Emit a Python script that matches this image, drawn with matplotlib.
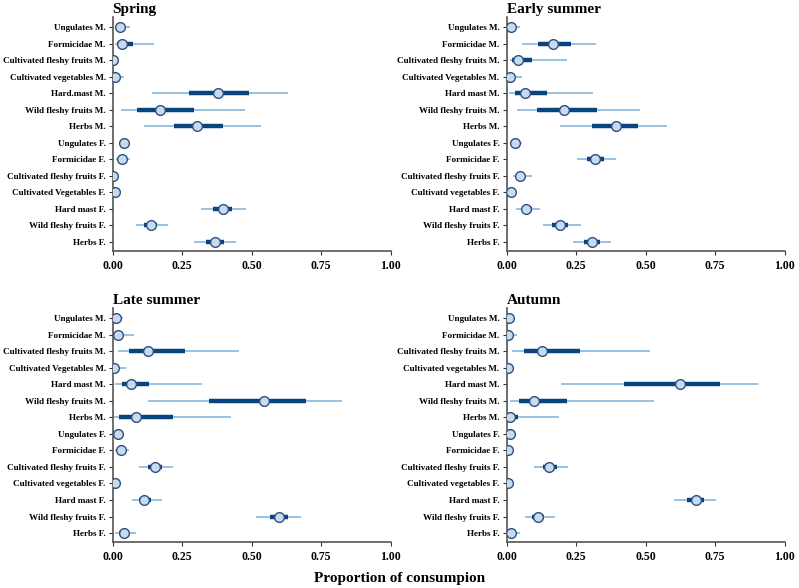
import numpy as np
import matplotlib
matplotlib.use("Agg")
import matplotlib.pyplot as plt

plt.rcParams['font.family'] = ['Liberation Serif', 'DejaVu Serif']
plt.rcParams['font.weight'] = 'bold'

# row labels, top to bottom
labels_spring = ["Ungulates M.", "Formicidae M.", "Cultivated fleshy fruits M.", "Cultivated vegetables M.",
                 "Hard.mast M.", "Wild fleshy fruits M.", "Herbs M.", "Ungulates F.", "Formicidae F.",
                 "Cultivated fleshy fruits F.", "Cultivated Vegetables F.", "Hard mast F.",
                 "Wild fleshy fruits F.", "Herbs F."]
labels_early = ["Ungulates M.", "Formicidae M.", "Cultivated fleshy fruits M.", "Cultivated Vegetables M.",
                "Hard mast M.", "Wild fleshy fruits M.", "Herbs M.", "Ungulates F.", "Formicidae F.",
                "Cultivated fleshy fruits F.", "Cultivatd vegetables F.", "Hard mast F.",
                "Wild fleshy fruits F.", "Herbs F."]
labels_late = ["Ungulates M.", "Formicidae M.", "Cultivated fleshy fruits M.", "Cultivated Vegetables M.",
               "Hard mast M.", "Wild fleshy fruits M.", "Herbs M.", "Ungulates F.", "Formicidae F.",
               "Cultivated fleshy fruits F.", "Cultivated vegetables F.", "Hard mast F.",
               "Wild fleshy fruits F.", "Herbs F."]
labels_autumn = ["Ungulates M.", "Formicidae M.", "Cultivated fleshy fruits M.", "Cultivated vegetables M.",
                 "Hard mast M.", "Wild fleshy fruits M.", "Herbs M.", "Ungulates F.", "Formicidae F.",
                 "Cultivated fleshy fruits F.", "Cultivated vegetables F.", "Hard mast F.",
                 "Wild fleshy fruits F.", "Herbs F."]

# median, 50% interval (lo, hi), 95% interval (lo, hi)
spring_med = [0.028, 0.035, 0.002, 0.007, 0.38, 0.171, 0.305, 0.042, 0.032, 0.001, 0.010, 0.396, 0.137, 0.367]
spring_lo50 = [0.015, 0.014, 0.000, 0.001, 0.276, 0.088, 0.219, 0.035, 0.022, 0.000, 0.003, 0.362, 0.111, 0.336]
spring_hi50 = [0.040, 0.074, 0.004, 0.015, 0.489, 0.294, 0.396, 0.050, 0.044, 0.002, 0.015, 0.430, 0.158, 0.399]
spring_lo95 = [0.008, 0.008, 0.000, 0.000, 0.140, 0.029, 0.114, 0.030, 0.012, 0.000, 0.000, 0.319, 0.084, 0.294]
spring_hi95 = [0.062, 0.150, 0.008, 0.042, 0.630, 0.476, 0.532, 0.055, 0.061, 0.004, 0.020, 0.478, 0.200, 0.442]

early_med = [0.017, 0.166, 0.040, 0.011, 0.066, 0.208, 0.393, 0.031, 0.319, 0.048, 0.017, 0.069, 0.193, 0.307]
early_lo50 = [0.008, 0.114, 0.018, 0.003, 0.029, 0.111, 0.308, 0.025, 0.291, 0.036, 0.010, 0.054, 0.165, 0.279]
early_hi50 = [0.028, 0.231, 0.090, 0.022, 0.144, 0.326, 0.473, 0.040, 0.349, 0.062, 0.025, 0.090, 0.222, 0.337]
early_lo95 = [0.000, 0.057, 0.012, 0.000, 0.010, 0.038, 0.193, 0.019, 0.254, 0.022, 0.004, 0.034, 0.132, 0.240]
early_hi95 = [0.050, 0.323, 0.216, 0.055, 0.311, 0.481, 0.577, 0.054, 0.395, 0.090, 0.036, 0.122, 0.266, 0.376]

late_med = [0.012, 0.018, 0.126, 0.006, 0.067, 0.546, 0.085, 0.020, 0.029, 0.151, 0.010, 0.114, 0.600, 0.041]
late_lo50 = [0.005, 0.006, 0.060, 0.001, 0.034, 0.345, 0.022, 0.014, 0.018, 0.128, 0.004, 0.093, 0.565, 0.024]
late_hi50 = [0.020, 0.038, 0.260, 0.015, 0.129, 0.695, 0.216, 0.026, 0.040, 0.177, 0.015, 0.139, 0.632, 0.057]
late_lo95 = [0.000, 0.002, 0.018, 0.000, 0.010, 0.126, 0.006, 0.012, 0.010, 0.096, 0.002, 0.069, 0.515, 0.010]
late_hi95 = [0.036, 0.077, 0.455, 0.048, 0.320, 0.824, 0.425, 0.030, 0.060, 0.218, 0.020, 0.177, 0.678, 0.085]

autumn_med = [0.008, 0.005, 0.128, 0.004, 0.625, 0.100, 0.012, 0.013, 0.006, 0.154, 0.005, 0.680, 0.114, 0.016]
autumn_lo50 = [0.003, 0.001, 0.062, 0.001, 0.422, 0.045, 0.002, 0.008, 0.002, 0.132, 0.001, 0.649, 0.092, 0.005]
autumn_hi50 = [0.015, 0.012, 0.265, 0.008, 0.766, 0.218, 0.042, 0.019, 0.010, 0.180, 0.008, 0.710, 0.135, 0.028]
autumn_lo95 = [0.000, 0.000, 0.019, 0.000, 0.196, 0.012, 0.000, 0.005, 0.000, 0.100, 0.000, 0.602, 0.066, 0.000]
autumn_hi95 = [0.030, 0.036, 0.517, 0.025, 0.903, 0.531, 0.189, 0.025, 0.015, 0.222, 0.012, 0.754, 0.174, 0.048]

panels = [
    ("Spring", labels_spring, spring_med, spring_lo50, spring_hi50, spring_lo95, spring_hi95),
    ("Early summer", labels_early, early_med, early_lo50, early_hi50, early_lo95, early_hi95),
    ("Late summer", labels_late, late_med, late_lo50, late_hi50, late_lo95, late_hi95),
    ("Autumn", labels_autumn, autumn_med, autumn_lo50, autumn_hi50, autumn_lo95, autumn_hi95),
]

fig = plt.figure(figsize=(7.99, 5.88), dpi=100)
rects = [
    [0.141, 0.573, 0.348, 0.398],
    [0.634, 0.573, 0.348, 0.398],
    [0.141, 0.078, 0.348, 0.398],
    [0.634, 0.078, 0.348, 0.398],
]

for rect, (title, labels, med, lo50, hi50, lo95, hi95) in zip(rects, panels):
    ax = fig.add_axes(rect)
    n = len(labels)
    y = np.arange(n)[::-1]
    ax.hlines(y, lo95, hi95, color="#7fb0d8", linewidth=1.1, zorder=1)
    ax.hlines(y, lo50, hi50, color="#08457e", linewidth=3.2, zorder=2)
    ax.plot(med, y, "o", markersize=7, markerfacecolor="#c6dbef",
            markeredgecolor="#2f4f7f", markeredgewidth=1.0, zorder=3, linestyle="none")
    ax.set_xlim(0, 1)
    ax.set_ylim(-0.55, n - 1 + 0.6)
    ax.set_yticks(y)
    ax.set_yticklabels(labels, fontsize=6.6, fontweight="bold")
    ax.set_xticks([0, 0.25, 0.5, 0.75, 1.0])
    ax.set_xticklabels(["0.00", "0.25", "0.50", "0.75", "1.00"], fontsize=8.5, fontweight="bold")
    for s in ["top", "right"]:
        ax.spines[s].set_visible(False)
    for s in ["left", "bottom"]:
        ax.spines[s].set_color("#555555")
        ax.spines[s].set_linewidth(1.2)
    ax.tick_params(axis="both", length=3, width=0.8, colors="#333333", labelcolor="black")
    ax.tick_params(axis="y", pad=2)
    ax.set_title(title, loc="left", fontsize=11, fontweight="bold", pad=3)

fig.text(0.5, 0.005, "Proportion of consumpion", ha="center", va="bottom", fontsize=11, fontweight="bold")

fig.savefig("out.png", dpi=100)
